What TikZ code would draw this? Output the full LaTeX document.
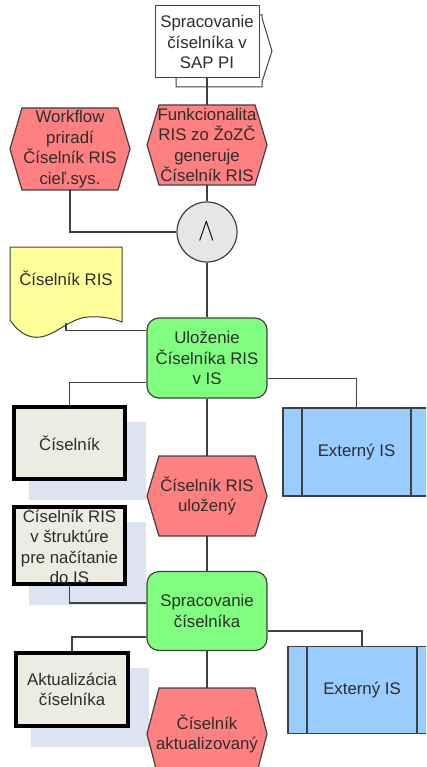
\documentclass[tikz,border=0pt]{standalone}
\usepackage{fontspec}
\setmainfont{Liberation Sans}
\usetikzlibrary{positioning}

\definecolor{evred}{RGB}{255,128,128}
\definecolor{fngreen}{RGB}{128,255,128}
\definecolor{docyellow}{RGB}{255,255,153}
\definecolor{sysblue}{RGB}{153,204,255}
\definecolor{infogray}{RGB}{236,236,226}
\definecolor{shadowblue}{RGB}{220,228,242}
\definecolor{andgray}{RGB}{230,230,230}
\definecolor{linegray}{RGB}{64,64,64}
\definecolor{txtgray}{RGB}{45,45,45}

\pgfdeclarelayer{shade}
\pgfsetlayers{shade,main}

% hexagon event: name, x, y, half height, text
\newcommand{\eventhex}[5]{%
	\filldraw[eventshape] (#2-60,#3) -- (#2-48,#3-#4) -- (#2+48,#3-#4) -- (#2+60,#3)
		-- (#2+48,#3+#4) -- (#2-48,#3+#4) -- cycle;
	\node[evtext,minimum height={2*#4pt}] (#1) at (#2,#3) {#5};
}

\begin{document}
\begin{tikzpicture}[x=1pt,y=-1pt,
	every node/.style={font=\fontsize{16.8}{20.5}\selectfont,text=txtgray,align=center},
	eventshape/.style={fill=evred,draw=linegray,line width=1.2pt},
	evtext/.style={inner sep=0pt,minimum width=120pt},
	func/.style={rectangle,rounded corners=12pt,fill=fngreen,draw=linegray,line width=1.2pt,
		minimum width=120pt,minimum height=80pt,inner sep=0pt},
	infobox/.style={rectangle,fill=infogray,draw=black,line width=4pt,
		minimum width=111pt,minimum height=73pt,inner sep=0pt},
	sysbox/.style={rectangle,fill=sysblue,draw=linegray,line width=1.2pt,
		minimum width=147pt,minimum height=88pt,inner sep=0pt,
		path picture={\draw[linegray,line width=1.4pt]
			([xshift=19pt]path picture bounding box.north west) -- ([xshift=19pt]path picture bounding box.south west)
			([xshift=-19pt]path picture bounding box.north east) -- ([xshift=-19pt]path picture bounding box.south east);}},
	conn/.style={draw=linegray,line width=1.4pt}]
	\useasboundingbox (0,0) rectangle (426,767);
	\clip (0,0) rectangle (426,767);

	% process interface
	\filldraw[fill=white,draw=linegray,line width=1pt] (176,87) -- (262,87) -- (262,82) -- (272,51)
		-- (262,18) -- (262,15) -- (176,15) -- cycle;
	\node[rectangle,fill=white,draw=linegray,line width=1pt,minimum width=104pt,minimum height=72pt,inner sep=0pt]
		(ifc) at (207,42) {Spracovanie\\číselníka v\\SAP PI};

	\eventhex{e1}{207}{145}{40}{Funkcionalita\\RIS zo ŽoZČ\\generuje\\Číselník RIS}
	\eventhex{wf}{70}{149}{41}{Workflow\\priradí\\Číselník RIS\\cieľ.sys.}

	\node[circle,fill=andgray,draw=linegray,line width=1.2pt,minimum size=60pt,inner sep=0pt,
		font=\fontsize{24}{24}\selectfont,text=black] (and) at (207,232) {\scalebox{1}[1.3]{$\wedge$}};

	% document
	\filldraw[fill=docyellow,draw=linegray,line width=1pt] (10,247) -- (122,247) -- (122,322)
		.. controls (112,318) and (100,316) .. (88,317)
		.. controls (72,318) and (60,331) .. (45,336)
		.. controls (32,340) and (20,335) .. (10,320) -- cycle;
	\node[rectangle,minimum width=112pt,minimum height=76pt,inner sep=0pt,text depth=14pt]
		(doc) at (66,285) {Číselník RIS};

	\node[func] (f1) at (207,358) {Uloženie\\Číselníka RIS\\v IS};
	\node[sysbox] (ext1) at (356.5,452) {Externý IS};
	\node[infobox,minimum height=72pt] (c1) at (69.5,443) {Číselník};
	\eventhex{e2}{207}{496}{40}{Číselník RIS\\uložený}
	\node[infobox] (c2) at (69.5,545.5) {Číselník RIS\\v štruktúre\\pre načítanie\\do IS};

	\node[func,minimum height=79pt] (f2) at (207,611) {Spracovanie\\číselníka};
	\node[infobox,minimum width=112pt] (c3) at (72,689.5) {Aktualizácia\\číselníka};
	\node[sysbox,minimum width=148pt,minimum height=87pt] (ext2) at (362,690) {Externý IS};
	\eventhex{e3}{207}{734}{46}{Číselník\\aktualizovaný}

	\begin{pgfonlayer}{shade}
		\foreach \b in {c1,c2,c3}
			\fill[shadowblue] ([shift={(17pt,-17pt)}]\b.north west) rectangle ([shift={(19pt,-19pt)}]\b.south east);
	\end{pgfonlayer}

	\draw[conn] (ifc.south) -- (e1.north);
	\draw[conn] (e1.south) -- (and.north);
	\draw[conn] (wf.south) |- (and.west);
	\draw[conn] (and.south) -- (f1.north);
	\draw[conn] (doc.south) |- ([yshift=-13pt]f1.north west);
	\draw[conn] (c1.north) |- ([yshift=16pt]f1.south west);
	\draw[conn] ([yshift=20pt]f1.south east) -| (ext1.north);
	\draw[conn] (f1.south) -- (e2.north);
	\draw[conn] (e2.south) -- (f2.north);
	\draw[conn] (c2.south) |- ([yshift=8pt]f2.west);
	\draw[conn] (c3.north) |- ([yshift=14pt]f2.south west);
	\draw[conn] ([yshift=20pt]f2.south east) -| (ext2.north);
	\draw[conn] (f2.south) -- (e3.north);
\end{tikzpicture}
\end{document}
